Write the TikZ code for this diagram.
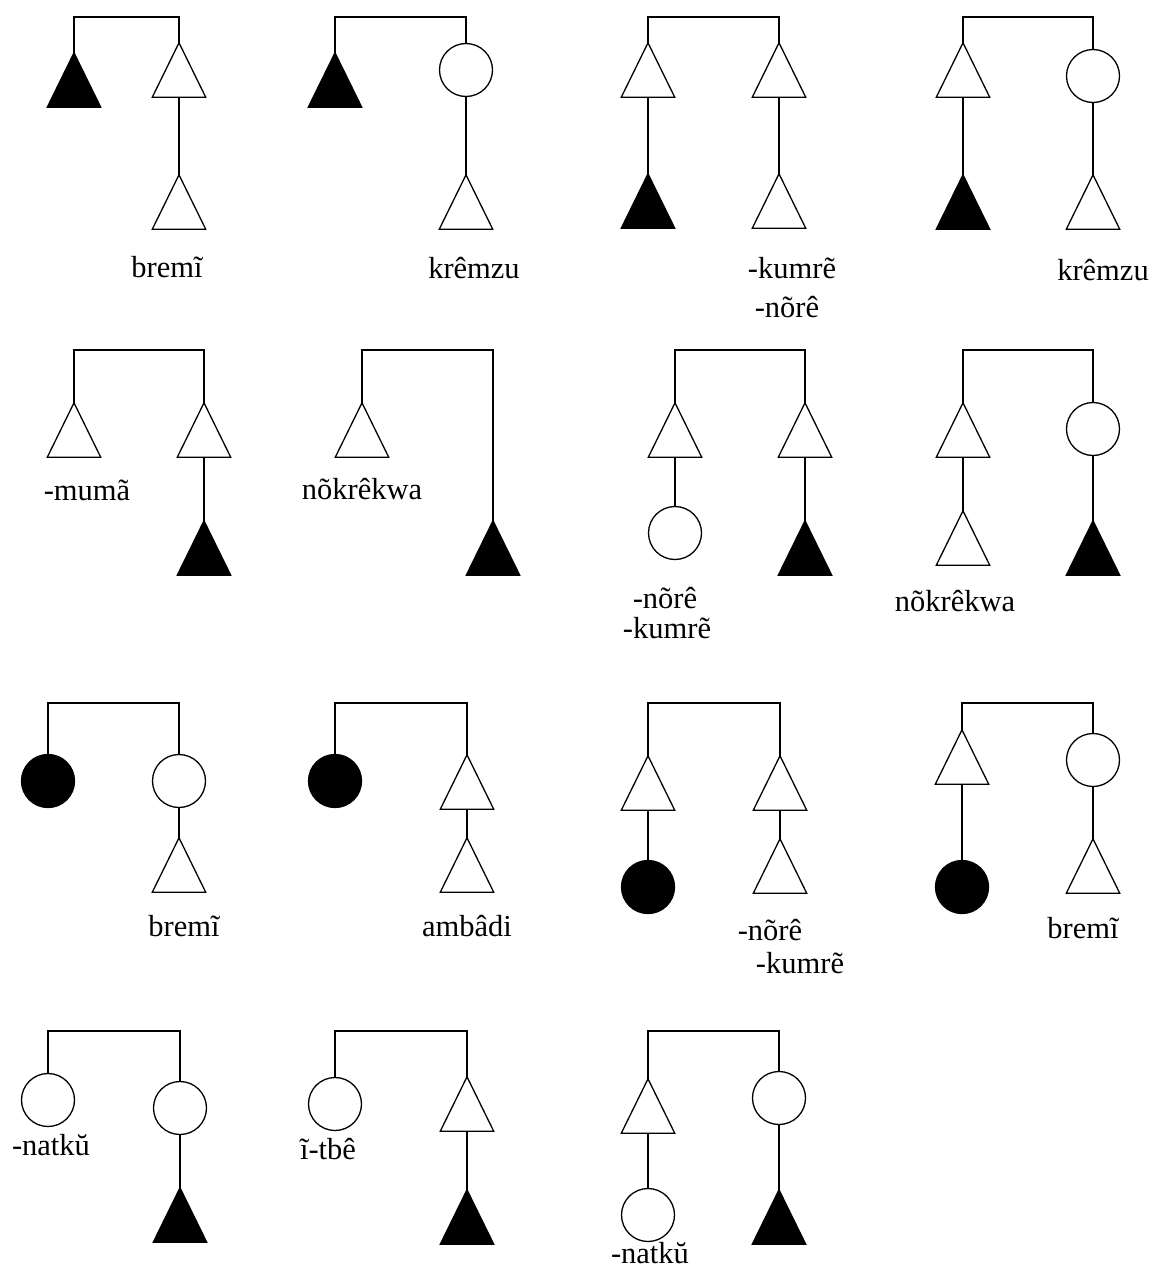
\documentclass[tikz,border=0pt]{standalone}
\usepackage{fontspec}
\setmainfont{Liberation Serif}
\tikzset{
  ln/.style={line width=1.3pt, black},
  tribox/.style={inner sep=0pt, minimum width=53pt, minimum height=54pt, draw=none},
  circ/.style={circle, draw, line width=1.3pt, inner sep=0pt, minimum size=53pt, fill=white},
  lbl/.style={font=\fontsize{30.5}{34}\selectfont, inner sep=0pt},
}
\newcommand{\Tri}[3]{\node[tribox] (#1) at (#2) {};
  \draw[ln, fill=#3, line join=miter] (#1.south west) -- (#1.south east) -- (#1.north) -- cycle;}
\begin{document}
\begin{tikzpicture}[x=1pt, y=-1pt]
\useasboundingbox (0,0) rectangle (1151,1269);
% ---------- Row 1 ----------
% D1
\Tri{d1a}{74,80}{black}
\Tri{d1b}{179,70}{white}
\Tri{d1c}{179,202}{white}
\coordinate (d1t) at (179,17);
\draw[ln] (d1a.north) |- (d1t) -- (d1b.north);
\draw[ln] (d1b.south) -- (d1c.north);
\node[lbl] (d1l) at (167,267) {bremĩ};
% D2
\Tri{d2a}{335,80}{black}
\node[circ] (d2b) at (466,70) {};
\Tri{d2c}{466,202}{white}
\coordinate (d2t) at (466,17);
\draw[ln] (d2a.north) |- (d2t) -- (d2b.north);
\draw[ln] (d2b.south) -- (d2c.north);
\node[lbl] (d2l) at (474,268) {krêmzu};
% D3
\Tri{d3a}{648,70}{white}
\Tri{d3b}{779,70}{white}
\Tri{d3c}{648,201}{black}
\Tri{d3d}{779,201}{white}
\coordinate (d3t) at (779,17);
\draw[ln] (d3a.north) |- (d3t) -- (d3b.north);
\draw[ln] (d3a.south) -- (d3c.north);
\draw[ln] (d3b.south) -- (d3d.north);
\node[lbl] (d3l) at (792,268) {-kumrẽ};
\node[lbl] (d3m) at (787,307) {-nõrê};
% D4
\Tri{d4a}{963,70}{white}
\node[circ] (d4b) at (1093,76) {};
\Tri{d4c}{963,202}{black}
\Tri{d4d}{1093,202}{white}
\coordinate (d4t) at (1093,17);
\draw[ln] (d4a.north) |- (d4t) -- (d4b.north);
\draw[ln] (d4a.south) -- (d4c.north);
\draw[ln] (d4b.south) -- (d4d.north);
\node[lbl] (d4l) at (1103,270) {krêmzu};
% ---------- Row 2 ----------
% D5
\Tri{d5a}{74,430}{white}
\Tri{d5b}{204,430}{white}
\Tri{d5c}{204,548}{black}
\coordinate (d5t) at (204,350);
\draw[ln] (d5a.north) |- (d5t) -- (d5b.north);
\draw[ln] (d5b.south) -- (d5c.north);
\node[lbl] (d5l) at (87,490) {-mumã};
% D6
\Tri{d6a}{362,430}{white}
\Tri{d6b}{493,548}{black}
\coordinate (d6t) at (493,350);
\draw[ln] (d6a.north) |- (d6t) -- (d6b.north);
\node[lbl] (d6l) at (362,489) {nõkrêkwa};
% D7
\Tri{d7a}{675,430}{white}
\Tri{d7b}{805,430}{white}
\node[circ] (d7c) at (675,533) {};
\Tri{d7d}{805,548}{black}
\coordinate (d7t) at (805,350);
\draw[ln] (d7a.north) |- (d7t) -- (d7b.north);
\draw[ln] (d7a.south) -- (d7c.north);
\draw[ln] (d7b.south) -- (d7d.north);
\node[lbl] (d7l) at (665,598) {-nõrê};
\node[lbl] (d7m) at (667,628) {-kumrẽ};
% D8
\Tri{d8a}{963,430}{white}
\node[circ] (d8b) at (1093,429) {};
\Tri{d8c}{963,538}{white}
\Tri{d8d}{1093,548}{black}
\coordinate (d8t) at (1093,350);
\draw[ln] (d8a.north) |- (d8t) -- (d8b.north);
\draw[ln] (d8a.south) -- (d8c.north);
\draw[ln] (d8b.south) -- (d8d.north);
\node[lbl] (d8l) at (955,601) {nõkrêkwa};
% ---------- Row 3 ----------
% D9
\node[circ, fill=black] (d9a) at (48,781) {};
\node[circ] (d9b) at (179,781) {};
\Tri{d9c}{179,865}{white}
\coordinate (d9t) at (179,703);
\draw[ln] (d9a.north) |- (d9t) -- (d9b.north);
\draw[ln] (d9b.south) -- (d9c.north);
\node[lbl] (d9l) at (184,926) {bremĩ};
% D10
\node[circ, fill=black] (d10a) at (335,781) {};
\Tri{d10b}{467,782}{white}
\Tri{d10c}{467,865}{white}
\coordinate (d10t) at (467,703);
\draw[ln] (d10a.north) |- (d10t) -- (d10b.north);
\draw[ln] (d10b.south) -- (d10c.north);
\node[lbl] (d10l) at (467,926) {ambâdi};
% D11
\Tri{d11a}{648,783}{white}
\Tri{d11b}{780,783}{white}
\node[circ, fill=black] (d11c) at (648,887) {};
\Tri{d11d}{780,866}{white}
\coordinate (d11t) at (780,703);
\draw[ln] (d11a.north) |- (d11t) -- (d11b.north);
\draw[ln] (d11a.south) -- (d11c.north);
\draw[ln] (d11b.south) -- (d11d.north);
\node[lbl] (d11l) at (770,930) {-nõrê};
\node[lbl] (d11m) at (800,963) {-kumrẽ};
% D12
\Tri{d12a}{962,757}{white}
\node[circ] (d12b) at (1093,760) {};
\node[circ, fill=black] (d12c) at (962,887) {};
\Tri{d12d}{1093,866}{white}
\coordinate (d12t) at (1093,703);
\draw[ln] (d12a.north) |- (d12t) -- (d12b.north);
\draw[ln] (d12a.south) -- (d12c.north);
\draw[ln] (d12b.south) -- (d12d.north);
\node[lbl] (d12l) at (1083,928) {bremĩ};
% ---------- Row 4 ----------
% D13
\node[circ] (d13a) at (48,1100) {};
\node[circ] (d13b) at (180,1108) {};
\Tri{d13c}{180,1215}{black}
\coordinate (d13t) at (180,1031);
\draw[ln] (d13a.north) |- (d13t) -- (d13b.north);
\draw[ln] (d13b.south) -- (d13c.north);
\node[lbl] (d13l) at (51,1145) {-natkŭ};
% D14
\node[circ] (d14a) at (335,1104) {};
\Tri{d14b}{467,1104}{white}
\Tri{d14c}{467,1217}{black}
\coordinate (d14t) at (467,1031);
\draw[ln] (d14a.north) |- (d14t) -- (d14b.north);
\draw[ln] (d14b.south) -- (d14c.north);
\node[lbl] (d14l) at (328,1149) {ĩ-tbê};
% D15
\Tri{d15a}{648,1106}{white}
\node[circ] (d15b) at (779,1098) {};
\node[circ] (d15c) at (648,1215) {};
\Tri{d15d}{779,1217}{black}
\coordinate (d15t) at (779,1031);
\draw[ln] (d15a.north) |- (d15t) -- (d15b.north);
\draw[ln] (d15a.south) -- (d15c.north);
\draw[ln] (d15b.south) -- (d15d.north);
\node[lbl] (d15l) at (650,1253) {-natkŭ};
\end{tikzpicture}
\end{document}
